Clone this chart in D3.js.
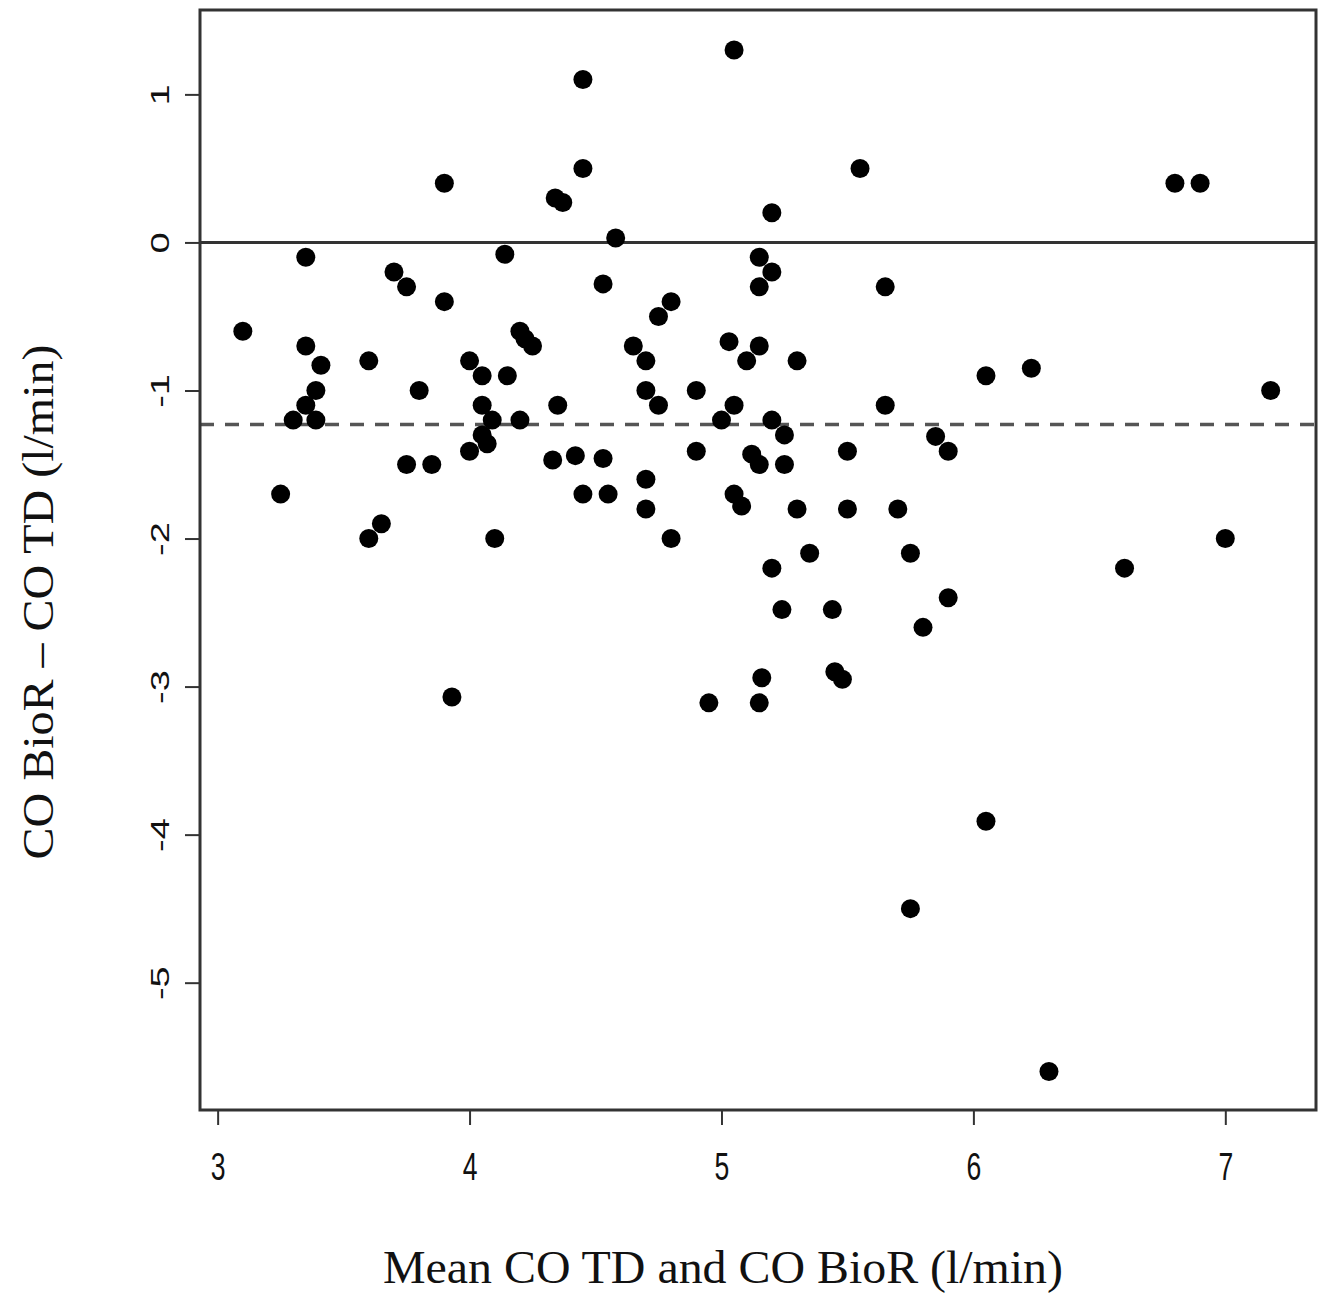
<!DOCTYPE html>
<html>
<head>
<meta charset="utf-8">
<script src="https://cdn.jsdelivr.net/npm/d3@7"></script>
<style>
  body { margin: 0; background: #fff; }
  svg { display: block; }
</style>
</head>
<body>
<svg></svg>
<script>
// mean of the two methods (l/min)
const meanCO = [
  3.1, 3.25, 3.3, 3.35, 3.35, 3.35, 3.39, 3.39, 3.41, 3.6,
  3.6, 3.65, 3.7, 3.75, 3.75, 3.8, 3.85, 3.9, 3.9, 3.93,
  4.0, 4.0, 4.05, 4.05, 4.05, 4.07, 4.09, 4.1, 4.14, 4.15,
  4.2, 4.22, 4.25, 4.2, 4.33, 4.34, 4.37, 4.35, 4.42, 4.45,
  4.45, 4.45, 4.53, 4.53, 4.55, 4.58, 4.65, 4.7, 4.7, 4.7,
  4.7, 4.75, 4.75, 4.8, 4.8, 4.9, 4.9, 4.95, 5.0, 5.03,
  5.05, 5.05, 5.05, 5.08, 5.1, 5.12, 5.15, 5.15, 5.15, 5.15,
  5.15, 5.16, 5.2, 5.2, 5.2, 5.2, 5.24, 5.25, 5.25, 5.3,
  5.3, 5.35, 5.44, 5.45, 5.48, 5.5, 5.5, 5.55, 5.65, 5.65,
  5.7, 5.75, 5.75, 5.8, 5.85, 5.9, 5.9, 6.05, 6.05, 6.23,
  6.3, 6.6, 6.8, 6.9, 7.0, 7.18
]

// difference BioR - TD (l/min)
const diffCO = [
  -0.6, -1.7, -1.2, -0.1, -0.7, -1.1, -1.0, -1.2, -0.83, -0.8,
  -2.0, -1.9, -0.2, -0.3, -1.5, -1.0, -1.5, 0.4, -0.4, -3.07,
  -0.8, -1.41, -0.9, -1.1, -1.3, -1.36, -1.2, -2.0, -0.08, -0.9,
  -0.6, -0.65, -0.7, -1.2, -1.47, 0.3, 0.27, -1.1, -1.44, 1.1,
  0.5, -1.7, -0.28, -1.46, -1.7, 0.03, -0.7, -0.8, -1.0, -1.6,
  -1.8, -0.5, -1.1, -0.4, -2.0, -1.0, -1.41, -3.11, -1.2, -0.67,
  1.3, -1.1, -1.7, -1.78, -0.8, -1.43, -0.1, -0.3, -0.7, -1.5,
  -3.11, -2.94, 0.2, -0.2, -1.2, -2.2, -2.48, -1.3, -1.5, -0.8,
  -1.8, -2.1, -2.48, -2.9, -2.95, -1.41, -1.8, 0.5, -0.3, -1.1,
  -1.8, -2.1, -4.5, -2.6, -1.31, -1.41, -2.4, -0.9, -3.91, -0.85,
  -5.6, -2.2, 0.4, 0.4, -2.0, -1.0
]

const refLines = [0]          // line of no difference
const meanDiff = [-1.23]      // mean difference (bias)

const xTicks = [3, 4, 5, 6, 7]
const yTicks = [1, 0, -1, -2, -3, -4, -5]

const xLabel = "Mean CO TD and CO BioR (l/min)"
const yLabel = "CO BioR \u2013 CO TD (l/min)"

const width = 1325
const height = 1293
const plot = { left: 200, right: 1316, top: 10, bottom: 1110 }

const svg = d3.select("svg")
  .attr("width", width)
  .attr("height", height)

const x = d3.scaleLinear()
  .domain([2.93, 7.36])
  .range([plot.left, plot.right])

const y = d3.scaleLinear()
  .domain([1.57, -5.86])
  .range([plot.top, plot.bottom])

const points = meanCO.map((m, i) => ({ x: m, y: diffCO[i] }))

// axes
const xAxis = svg.append("g")
  .attr("transform", `translate(0, ${plot.bottom})`)
  .call(d3.axisBottom(x).tickValues(xTicks).tickSize(15).tickSizeOuter(0).tickFormat(d3.format("d")))

xAxis.select(".domain").remove()
xAxis.selectAll(".tick line").attr("stroke", "#333").attr("stroke-width", 2)
xAxis.selectAll(".tick text")
  .attr("y", 0)
  .attr("dy", 0)
  .attr("transform", "translate(0, 70) scale(0.7, 1)")
  .attr("fill", "#111")
  .style("font-family", "'Liberation Sans', Arial, sans-serif")
  .style("font-size", "38px")

const yAxis = svg.append("g")
  .attr("transform", `translate(${plot.left}, 0)`)
  .call(d3.axisLeft(y).tickValues(yTicks).tickSize(15).tickSizeOuter(0).tickFormat(d3.format("d")))

yAxis.select(".domain").remove()
yAxis.selectAll(".tick line").attr("stroke", "#333").attr("stroke-width", 2)
yAxis.selectAll(".tick text")
  .attr("x", 0)
  .attr("dy", 0)
  .attr("text-anchor", "middle")
  .attr("transform", "translate(-31, 0) rotate(-90) scale(1, 0.7)")
  .attr("fill", "#111")
  .text(d => d3.format("d")(d).replace("\u2212", "-"))
  .style("font-family", "'Liberation Sans', Arial, sans-serif")
  .style("font-size", "38px")

// reference lines
svg.selectAll("line.zero")
  .data(refLines)
  .enter()
  .append("line")
  .attr("class", "zero")
  .attr("x1", plot.left)
  .attr("x2", plot.right)
  .attr("y1", d => y(d))
  .attr("y2", d => y(d))
  .attr("stroke", "#333")
  .attr("stroke-width", 3)

svg.selectAll("line.bias")
  .data(meanDiff)
  .enter()
  .append("line")
  .attr("class", "bias")
  .attr("x1", plot.left)
  .attr("x2", plot.right)
  .attr("y1", d => y(d))
  .attr("y2", d => y(d))
  .attr("stroke", "#555")
  .attr("stroke-width", 3.5)
  .attr("stroke-dasharray", "14,11")

// points
svg.append("g")
  .selectAll("circle")
  .data(points)
  .enter()
  .append("circle")
  .attr("cx", d => x(d.x))
  .attr("cy", d => y(d.y))
  .attr("r", 9.5)
  .attr("fill", "#000")

// frame
svg.append("rect")
  .attr("x", plot.left)
  .attr("y", plot.top)
  .attr("width", plot.right - plot.left)
  .attr("height", plot.bottom - plot.top)
  .attr("fill", "none")
  .attr("stroke", "#333")
  .attr("stroke-width", 3)

// axis titles
svg.append("text")
  .attr("x", 723)
  .attr("y", 1283)
  .attr("text-anchor", "middle")
  .attr("textLength", 680)
  .attr("lengthAdjust", "spacingAndGlyphs")
  .style("font-family", "'Liberation Serif', 'Times New Roman', serif")
  .style("font-size", "46px")
  .attr("fill", "#111")
  .text(xLabel)

svg.append("text")
  .attr("transform", "translate(53, 602) rotate(-90)")
  .attr("text-anchor", "middle")
  .attr("textLength", 515)
  .attr("lengthAdjust", "spacingAndGlyphs")
  .style("font-family", "'Liberation Serif', 'Times New Roman', serif")
  .style("font-size", "44px")
  .attr("fill", "#111")
  .text(yLabel)
</script>
</body>
</html>
